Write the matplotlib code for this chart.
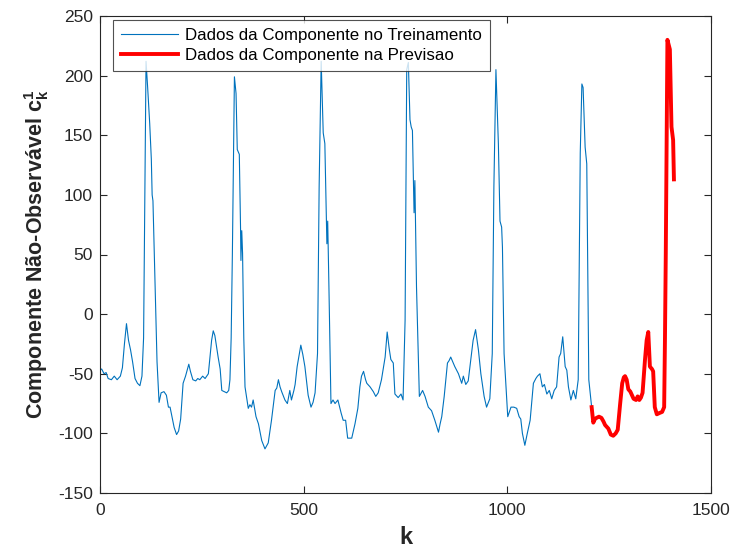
import matplotlib
matplotlib.use("Agg")
import matplotlib.pyplot as plt

plt.rcParams['font.family'] = ['Liberation Sans', 'DejaVu Sans']
plt.rcParams['mathtext.fontset'] = 'custom'
plt.rcParams['mathtext.rm'] = 'Liberation Sans'
plt.rcParams['mathtext.bf'] = 'Liberation Sans:bold'
plt.rcParams['mathtext.it'] = 'Liberation Sans:italic'
plt.rcParams['axes.unicode_minus'] = False

k_train = [0, 4, 10, 15, 20, 28, 35, 42, 50, 55, 60, 65, 70, 75, 80, 86, 92, 98, 103, 107,
           110, 113, 117, 122, 126, 128, 130, 134, 140, 145, 150, 157, 163, 168, 172, 178, 182, 188, 193, 198,
           204, 210, 218, 222, 228, 235, 240, 245, 252, 258, 266, 274, 278, 282, 290, 295, 299, 305, 311, 316,
           319, 322, 325, 330, 334, 337, 342, 345, 346, 348, 350, 353, 356, 364, 368, 372, 376, 383, 389, 397,
           405, 413, 421, 430, 434, 438, 442, 446, 454, 460, 466, 470, 476, 479, 484, 488, 493, 498, 503, 511,
           518, 523, 528, 534, 538, 543, 548, 552, 557, 559, 562, 567, 572, 577, 584, 592, 597, 603, 608, 618,
           626, 633, 638, 642, 647, 652, 655, 663, 671, 677, 683, 691, 700, 705, 710, 714, 720, 724, 732, 739,
           744, 749, 753, 757, 761, 764, 767, 771, 773, 777, 784, 792, 798, 806, 814, 822, 831, 835, 839, 845,
           853, 857, 861, 871, 880, 888, 892, 898, 904, 911, 916, 922, 929, 935, 943, 949, 957, 963, 967, 972,
           978, 982, 986, 988, 992, 1001, 1009, 1016, 1023, 1029, 1033, 1037, 1043, 1049, 1056, 1064, 1070, 1074, 1080, 1086,
           1091, 1097, 1103, 1109, 1115, 1121, 1127, 1131, 1136, 1142, 1146, 1150, 1156, 1162, 1168, 1174, 1179, 1183, 1186, 1191,
           1195, 1200, 1207]
y_train = [-47, -46, -50, -49, -54, -55, -52, -55, -52, -45, -25, -8, -22, -30, -40, -54, -58, -60, -52, -20,
           100, 212, 190, 160, 130, 100, 95, 40, -40, -74, -66, -65, -68, -78, -78, -88, -95, -101, -98, -88,
           -58, -52, -42, -48, -55, -56, -54, -55, -52, -54, -50, -22, -14, -18, -36, -46, -64, -65, -66, -64,
           -55, -20, 51, 199, 185, 138, 134, 73, 45, 70, 51, -20, -61, -79, -76, -78, -72, -86, -92, -106,
           -113, -108, -89, -64, -62, -55, -61, -65, -72, -75, -64, -72, -64, -59, -44, -36, -26, -34, -44, -68,
           -78, -74, -66, -33, 107, 212, 152, 143, 59, 78, 23, -75, -72, -75, -72, -83, -89, -89, -104, -104,
           -92, -79, -61, -52, -48, -55, -58, -61, -65, -69, -66, -55, -36, -15, -29, -38, -41, -67, -70, -67,
           -72, -5, 205, 211, 163, 157, 154, 85, 112, 23, -69, -64, -69, -78, -81, -89, -99, -92, -86, -69,
           -41, -39, -36, -44, -50, -58, -52, -59, -56, -36, -22, -13, -30, -50, -69, -78, -71, -33, 107, 205,
           143, 78, 73, 56, -33, -86, -78, -78, -79, -86, -88, -100, -110, -100, -89, -58, -54, -52, -50, -61,
           -59, -67, -64, -71, -64, -61, -36, -33, -19, -44, -47, -61, -72, -64, -71, -55, 135, 193, 190, 140,
           126, -55, -78]

k_test = [1207, 1211, 1215, 1219, 1225, 1231, 1236, 1240, 1248, 1254, 1260, 1266, 1271, 1277, 1282, 1286,
          1289, 1293, 1297, 1302, 1306, 1310, 1316, 1320, 1324, 1328, 1332, 1338, 1342, 1346, 1350, 1355,
          1358, 1362, 1367, 1373, 1380, 1385, 1387, 1389, 1393, 1399, 1403, 1407, 1409]
y_test = [-78, -91, -88, -87, -86, -87, -90, -93, -96, -101, -102, -100, -97, -75, -58, -53,
          -52, -55, -63, -65, -68, -71, -72, -69, -72, -70, -66, -38, -22, -15, -44, -46,
          -48, -78, -84, -83, -82, -78, -20, 51, 230, 222, 157, 146, 113]

x_ticks = [0, 500, 1000, 1500]
y_ticks = [-150, -100, -50, 0, 50, 100, 150, 200, 250]
legend_labels = ['Dados da Componente no Treinamento', 'Dados da Componente na Previsao']

fig = plt.figure(figsize=(7.32, 5.53), dpi=100)
ax = fig.add_axes([100/732, 60/553, 611/732, 477/553])

ax.plot(k_train, y_train, color='#0072BD', lw=0.8, label=legend_labels[0])
ax.plot(k_test, y_test, color='#FF0000', lw=2.8, label=legend_labels[1])

ax.set_xlim(0, 1500)
ax.set_ylim(-150, 250)
ax.set_xticks(x_ticks)
ax.set_yticks(y_ticks)
ax.tick_params(direction='in', top=True, right=True, length=5, width=0.8,
               labelsize=12.5, colors='#262626')
ax.tick_params(axis='x', pad=7)
ax.tick_params(axis='y', pad=5)
for s in ax.spines.values():
    s.set_color('#262626')
    s.set_linewidth(0.8)

ax.set_xlabel('k', fontsize=17, fontweight='bold', color='#262626', labelpad=6)
ax.set_ylabel(r'Componente Não-Observável $\mathbf{c_k^1}$', fontsize=15.5,
              fontweight='bold', color='#262626', labelpad=5)

leg = ax.legend(loc='upper left', bbox_to_anchor=(13/611, 1 - 4/477), borderaxespad=0,
                fontsize=12.2, frameon=True, fancybox=False,
                edgecolor='#262626', handlelength=3.4, handletextpad=0.4,
                borderpad=0.45, labelspacing=0.32)
leg.get_frame().set_linewidth(0.8)

fig.savefig('out.png', dpi=100)
